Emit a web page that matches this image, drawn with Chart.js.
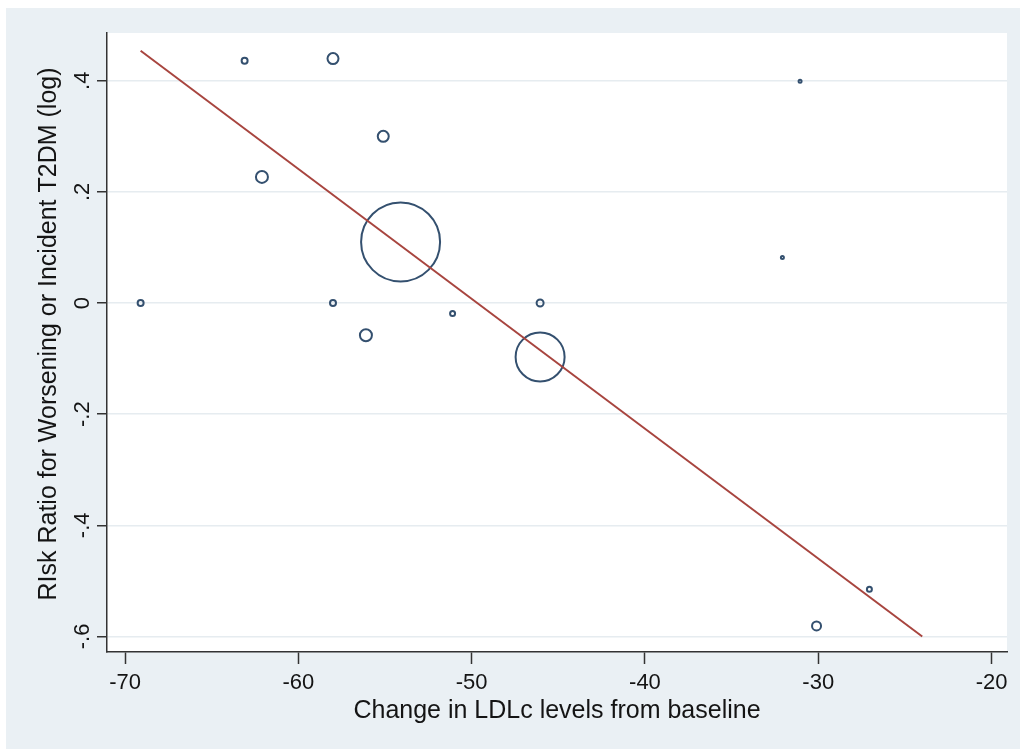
<!DOCTYPE html>
<html>
<head>
<meta charset="utf-8">
<script src="https://cdn.jsdelivr.net/npm/chart.js@4"></script>
<style>
  html, body { margin: 0; padding: 0; background: #fff; }
  canvas { display: block; }
</style>
</head>
<body>
<canvas id="chart" width="1020" height="749"></canvas>
<script>
// studies: change in LDLc vs log risk ratio, bubble size = study weight
const ldlChange    = [-69.1, -63.1, -58.0, -55.1, -62.1, -54.1, -58.0, -56.1, -51.1, -46.05, -46.05, -31.05, -32.07, -27.05, -30.1];
const logRiskRatio = [0.0, 0.436, 0.440, 0.300, 0.227, 0.110, 0.0, -0.058, -0.019, 0.0, -0.097, 0.399, 0.082, -0.515, -0.581];
const bubbleSize   = [3, 3, 5.5, 5.5, 6, 39.5, 3, 6, 2.5, 3.5, 24.5, 1.5, 1.5, 2.5, 4.5];

// fitted meta-regression line
const fitX = [-69.1, -24.0];
const fitY = [0.454, -0.600];

const xTicks = [-70, -60, -50, -40, -30, -20];
const yTicks = [-0.6, -0.4, -0.2, 0, 0.2, 0.4];
const yTickLabels = ["-.6", "-.4", "-.2", "0", ".2", ".4"];

const xTitle = "Change in LDLc levels from baseline";
const yTitle = "RIsk Ratio for Worsening or Incident T2DM (log)";

const FONT = '"Liberation Sans", Arial, Helvetica, sans-serif';
const AXIS = "#333333";
const TEXT = "#141414";

const bubbles = ldlChange.map((x, i) => ({ x: x, y: logRiskRatio[i], r: bubbleSize[i] }));
const fitLine = fitX.map((x, i) => ({ x: x, y: fitY[i] }));

// grey-blue frame + white plot region, rotated y labels (Stata look)
const stataFrame = {
    id: "stataFrame",
    beforeDraw(chart) {
        const { ctx, chartArea: a } = chart;
        ctx.save();
        ctx.fillStyle = "#ffffff";
        ctx.fillRect(0, 0, chart.width, chart.height);
        ctx.fillStyle = "#eaf0f4";
        ctx.fillRect(6, 8, chart.width - 6, chart.height - 8);
        ctx.fillStyle = "#ffffff";
        ctx.fillRect(a.left, a.top, a.right - a.left, a.bottom - a.top);
        ctx.restore();
    },
    afterDraw(chart) {
        const { ctx } = chart;
        const y = chart.scales.y;
        ctx.save();
        ctx.fillStyle = TEXT;
        ctx.textAlign = "center";
        ctx.textBaseline = "middle";
        ctx.font = "22px " + FONT;
        yTicks.forEach((v, i) => {
            ctx.save();
            ctx.translate(83, y.getPixelForValue(v));
            ctx.rotate(-Math.PI / 2);
            ctx.fillText(yTickLabels[i], 0, 0);
            ctx.restore();
        });
        ctx.font = "25px " + FONT;
        ctx.translate(49, 334);
        ctx.rotate(-Math.PI / 2);
        ctx.fillText(yTitle, 0, 0);
        ctx.restore();
    }
};

new Chart(document.getElementById("chart"), {
    type: "bubble",
    data: {
        datasets: [
            {
                type: "line",
                data: fitLine,
                borderColor: "#a8453f",
                borderWidth: 2,
                pointRadius: 0,
                fill: false,
                order: 0
            },
            {
                type: "bubble",
                data: bubbles,
                backgroundColor: "rgba(0,0,0,0)",
                borderColor: "#34506f",
                borderWidth: 2,
                hoverRadius: 0,
                clip: false,
                order: 1
            }
        ]
    },
    options: {
        responsive: false,
        animation: false,
        devicePixelRatio: 1,
        layout: { autoPadding: false, padding: { top: 33, right: 13, left: 0, bottom: 0 } },
        plugins: { legend: { display: false }, tooltip: { enabled: false } },
        scales: {
            x: {
                type: "linear",
                position: "bottom",
                min: -71.04,
                max: -19.11,
                afterBuildTicks: (s) => { s.ticks = xTicks.map(v => ({ value: v })); },
                afterFit: (s) => { s.height = 97; },
                ticks: {
                    font: { size: 22, family: FONT },
                    color: TEXT,
                    padding: 6,
                    maxRotation: 0,
                    callback: (v) => String(v)
                },
                grid: {
                    drawOnChartArea: false,
                    drawTicks: true,
                    tickLength: 12,
                    tickColor: AXIS,
                    tickWidth: 1.5
                },
                border: { color: AXIS, width: 1.5 },
                title: {
                    display: true,
                    text: xTitle,
                    font: { size: 25, family: FONT },
                    color: TEXT,
                    padding: { top: 0, bottom: 23 }
                }
            },
            y: {
                type: "linear",
                position: "left",
                min: -0.628,
                max: 0.486,
                afterBuildTicks: (s) => { s.ticks = yTicks.map(v => ({ value: v })); },
                afterFit: (s) => { s.width = 107; },
                ticks: { display: false },
                grid: {
                    color: "#e6ecf0",
                    lineWidth: 1.5,
                    drawTicks: true,
                    tickLength: 10,
                    tickColor: AXIS,
                    tickWidth: 1.5
                },
                border: { color: AXIS, width: 1.5 }
            }
        }
    },
    plugins: [stataFrame]
});
</script>
</body>
</html>
